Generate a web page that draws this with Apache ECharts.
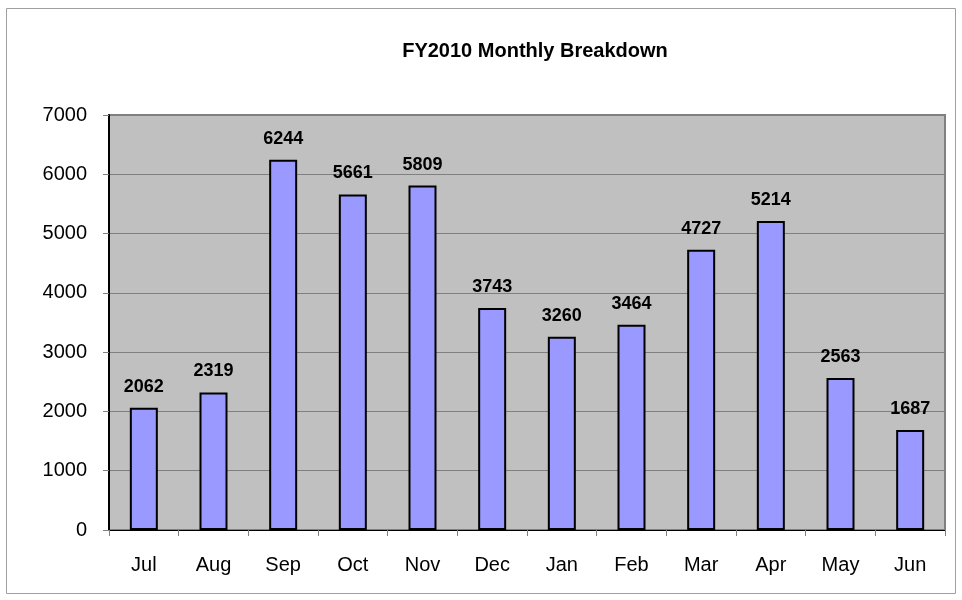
<!DOCTYPE html>
<html><head><meta charset="utf-8">
<script src="https://cdn.jsdelivr.net/npm/echarts@6/dist/echarts.min.js"></script>
<style>html,body{margin:0;padding:0;background:#fff}#c{width:962px;height:600px}</style>
</head><body><div id="c"></div>
<script>
const months = ['Jul','Aug','Sep','Oct','Nov','Dec','Jan','Feb','Mar','Apr','May','Jun'];
const values = [2062,2319,6244,5661,5809,3743,3260,3464,4727,5214,2563,1687];
const yTicks = [0,1000,2000,3000,4000,5000,6000,7000];
const titleText = 'FY2010 Monthly Breakdown';

const chart = echarts.init(document.getElementById('c'), null, {renderer:'canvas'});
const F = 'Liberation Sans, Arial, sans-serif';
chart.setOption({
  animation:false,
  backgroundColor:'#fff',
  graphic:[{type:'rect', shape:{x:6.5,y:8.5,width:949,height:585}, style:{fill:'none', stroke:'#a0a0a0', lineWidth:1}, z:-1}],
  title:{text:titleText, left:530, textAlign:'center', top:36, textStyle:{fontFamily:F, fontWeight:'bold', fontSize:20, color:'#000'}},
  grid:{left:109, top:115, width:836, height:415, show:true, backgroundColor:'#c0c0c0', borderColor:'#808080', borderWidth:2},
  xAxis:{type:'category', data:months,
    axisLine:{show:true, lineStyle:{color:'#000', width:1}},
    axisTick:{show:true, length:6, lineStyle:{color:'#808080'}},
    axisLabel:{fontFamily:F, fontSize:20, color:'#000', margin:25}},
  yAxis:{type:'value', min:yTicks[0], max:yTicks[yTicks.length-1], interval:1000,
    axisLine:{show:true, lineStyle:{color:'#000', width:2}},
    axisTick:{show:true, length:6, lineStyle:{color:'#808080'}},
    splitLine:{lineStyle:{color:'#808080', width:1}},
    axisLabel:{fontFamily:F, fontSize:20, color:'#000', margin:22, formatter:v=>String(v)}},
  series:[{type:'bar', data:values, barWidth:28,
    itemStyle:{color:'#9999ff', borderColor:'#000', borderWidth:2},
    label:{show:true, position:'top', distance:12, fontFamily:F, fontWeight:'bold', fontSize:18, color:'#000'}}]
});
</script></body></html>
